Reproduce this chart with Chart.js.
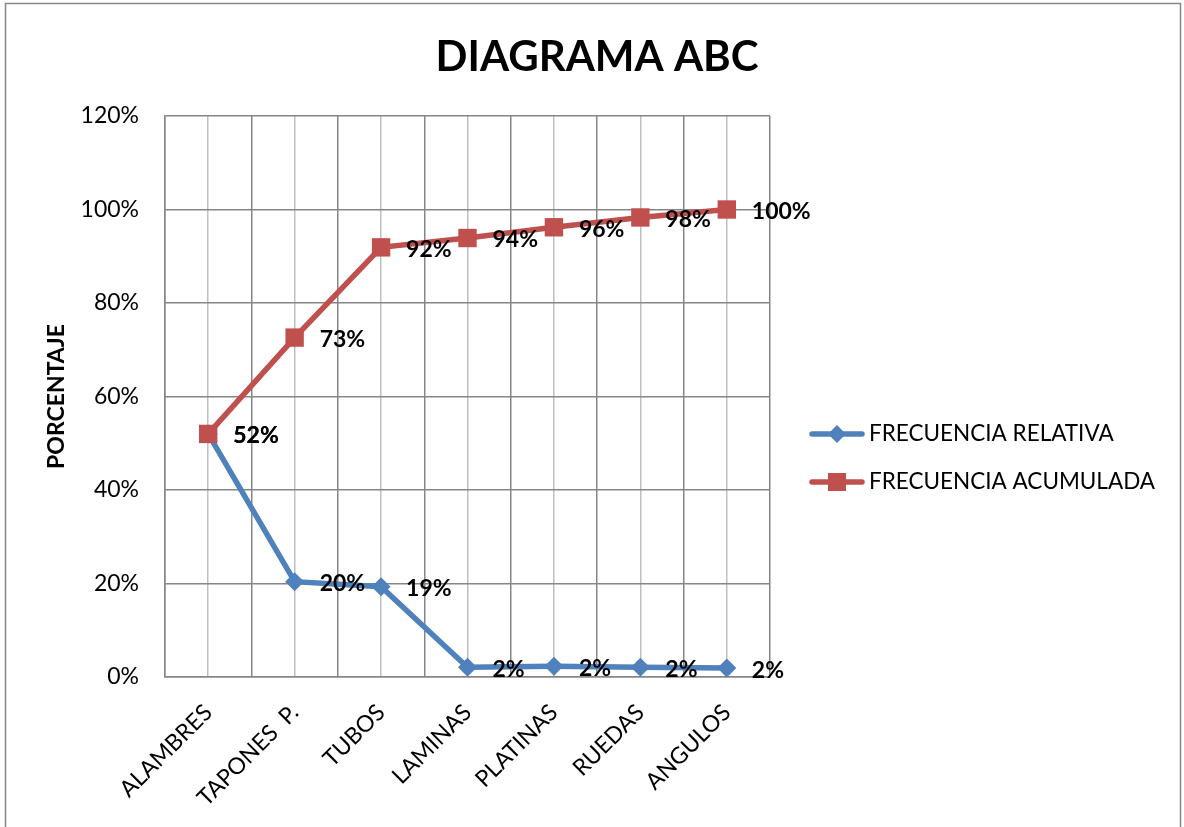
<!DOCTYPE html>
<html>
<head>
<meta charset="utf-8">
<script src="https://cdn.jsdelivr.net/npm/chart.js@4/dist/chart.umd.min.js"></script>
<style>
  html, body { margin: 0; padding: 0; background: #fff; }
  canvas { display: block; }
</style>
</head>
<body>
<canvas id="abcChart" width="1184" height="827"></canvas>
<script>
// --- DATOS ---
const categorias = ['ALAMBRES', 'TAPONES  P.', 'TUBOS', 'LAMINAS', 'PLATINAS', 'RUEDAS', 'ANGULOS'];
const frecRelativa = [52, 20.4, 19.3, 2.1, 2.3, 2.1, 1.9];
const frecAcumulada = [52, 72.6, 91.9, 93.9, 96.2, 98.3, 100];
const yTicks = [0, 20, 40, 60, 80, 100, 120];

const AZUL = '#4F81BD';
const ROJO = '#C0504D';
const FUENTE = 'Lato, "Open Sans", sans-serif';

// etiquetas de datos, titulo, leyenda y borde exterior
const extrasPlugin = {
  id: 'extras',
  beforeDraw(chart) {
    const ctx = chart.ctx;
    ctx.save();
    ctx.fillStyle = '#fff';
    ctx.fillRect(0, 0, chart.width, chart.height);
    ctx.strokeStyle = '#868686';
    ctx.lineWidth = 1.5;
    ctx.strokeRect(5.5, 3.5, 1175, 840);
    ctx.restore();
  },
  afterDatasetsDraw(chart) {
    const ctx = chart.ctx;
    ctx.save();
    ctx.font = 'bold 23px ' + FUENTE;
    ctx.fillStyle = '#000';
    ctx.textAlign = 'left';
    ctx.textBaseline = 'middle';
    chart.data.datasets.forEach(function(ds, i) {
      const meta = chart.getDatasetMeta(i);
      meta.data.forEach(function(pt, j) {
        ctx.fillText(Math.round(ds.data[j]) + '%', pt.x + 25, pt.y + 2);
      });
    });
    ctx.restore();
  },
  afterDraw(chart) {
    const ctx = chart.ctx;
    ctx.save();
    // titulo
    ctx.font = 'bold 42px ' + FUENTE;
    ctx.fillStyle = '#000';
    ctx.textAlign = 'center';
    ctx.textBaseline = 'middle';
    ctx.fillText('DIAGRAMA ABC', 597, 57);

    // leyenda
    const items = [
      { text: 'FRECUENCIA RELATIVA', color: AZUL, shape: 'diamond', y: 434 },
      { text: 'FRECUENCIA ACUMULADA', color: ROJO, shape: 'square', y: 482 }
    ];
    items.forEach(function(it) {
      ctx.strokeStyle = it.color;
      ctx.fillStyle = it.color;
      ctx.lineWidth = 5.5;
      ctx.lineCap = 'round';
      ctx.beginPath();
      ctx.moveTo(812, it.y);
      ctx.lineTo(862, it.y);
      ctx.stroke();
      ctx.beginPath();
      if (it.shape === 'diamond') {
        ctx.moveTo(837, it.y - 9);
        ctx.lineTo(846, it.y);
        ctx.lineTo(837, it.y + 9);
        ctx.lineTo(828, it.y);
        ctx.closePath();
      } else {
        ctx.rect(828, it.y - 9, 18, 18);
      }
      ctx.fill();
      ctx.fillStyle = '#000';
      ctx.font = '22.5px ' + FUENTE;
      ctx.textAlign = 'left';
      ctx.textBaseline = 'middle';
      ctx.fillText(it.text, 869, it.y);
    });
    ctx.restore();
  }
};

const ctx = document.getElementById('abcChart');
new Chart(ctx, {
  type: 'line',
  data: {
    labels: categorias,
    datasets: [
      {
        label: 'FRECUENCIA RELATIVA',
        data: frecRelativa,
        borderColor: AZUL,
        backgroundColor: AZUL,
        borderWidth: 5.5,
        pointStyle: 'rectRot',
        pointRadius: 9.5,
        pointBorderWidth: 0,
        tension: 0,
        order: 1
      },
      {
        label: 'FRECUENCIA ACUMULADA',
        data: frecAcumulada,
        borderColor: ROJO,
        backgroundColor: ROJO,
        borderWidth: 5.5,
        pointStyle: 'rect',
        pointRadius: 13,
        pointBorderWidth: 0,
        tension: 0,
        order: 0
      }
    ]
  },
  options: {
    responsive: false,
    animation: false,
    layout: { padding: { top: 116, right: 414, bottom: 0, left: 0 } },
    plugins: {
      legend: { display: false },
      tooltip: { enabled: false }
    },
    scales: {
      x: {
        type: 'category',
        offset: true,
        afterFit(scale) { scale.height = 150; },
        grid: { offset: true, color: '#868686', lineWidth: 1.5, drawTicks: false },
        border: { color: '#868686', width: 1.5 },
        ticks: {
          color: '#000',
          font: { family: FUENTE, size: 23 },
          minRotation: 45,
          maxRotation: 45,
          padding: 22,
          autoSkip: false
        }
      },
      x2: {
        type: 'category',
        labels: categorias,
        position: 'bottom',
        offset: true,
        afterFit(scale) { scale.height = 0; },
        grid: { offset: false, color: '#BFBFBF', lineWidth: 1.5, drawTicks: false },
        border: { display: false },
        ticks: { display: false }
      },
      y: {
        min: 0,
        max: 120,
        afterFit(scale) { scale.width = 165; },
        afterBuildTicks(scale) { scale.ticks = yTicks.map(function(v) { return { value: v }; }); },
        grid: { color: '#868686', lineWidth: 1.5, drawTicks: false },
        border: { color: '#868686', width: 1.5 },
        ticks: {
          color: '#000',
          font: { family: FUENTE, size: 23 },
          padding: 26,
          callback: function(v) { return v + '%'; }
        },
        title: {
          display: true,
          text: 'PORCENTAJE',
          color: '#000',
          font: { family: FUENTE, size: 23, weight: 'bold' },
          padding: { top: 43, bottom: 0 }
        }
      }
    }
  },
  plugins: [extrasPlugin]
});
</script>
</body>
</html>
